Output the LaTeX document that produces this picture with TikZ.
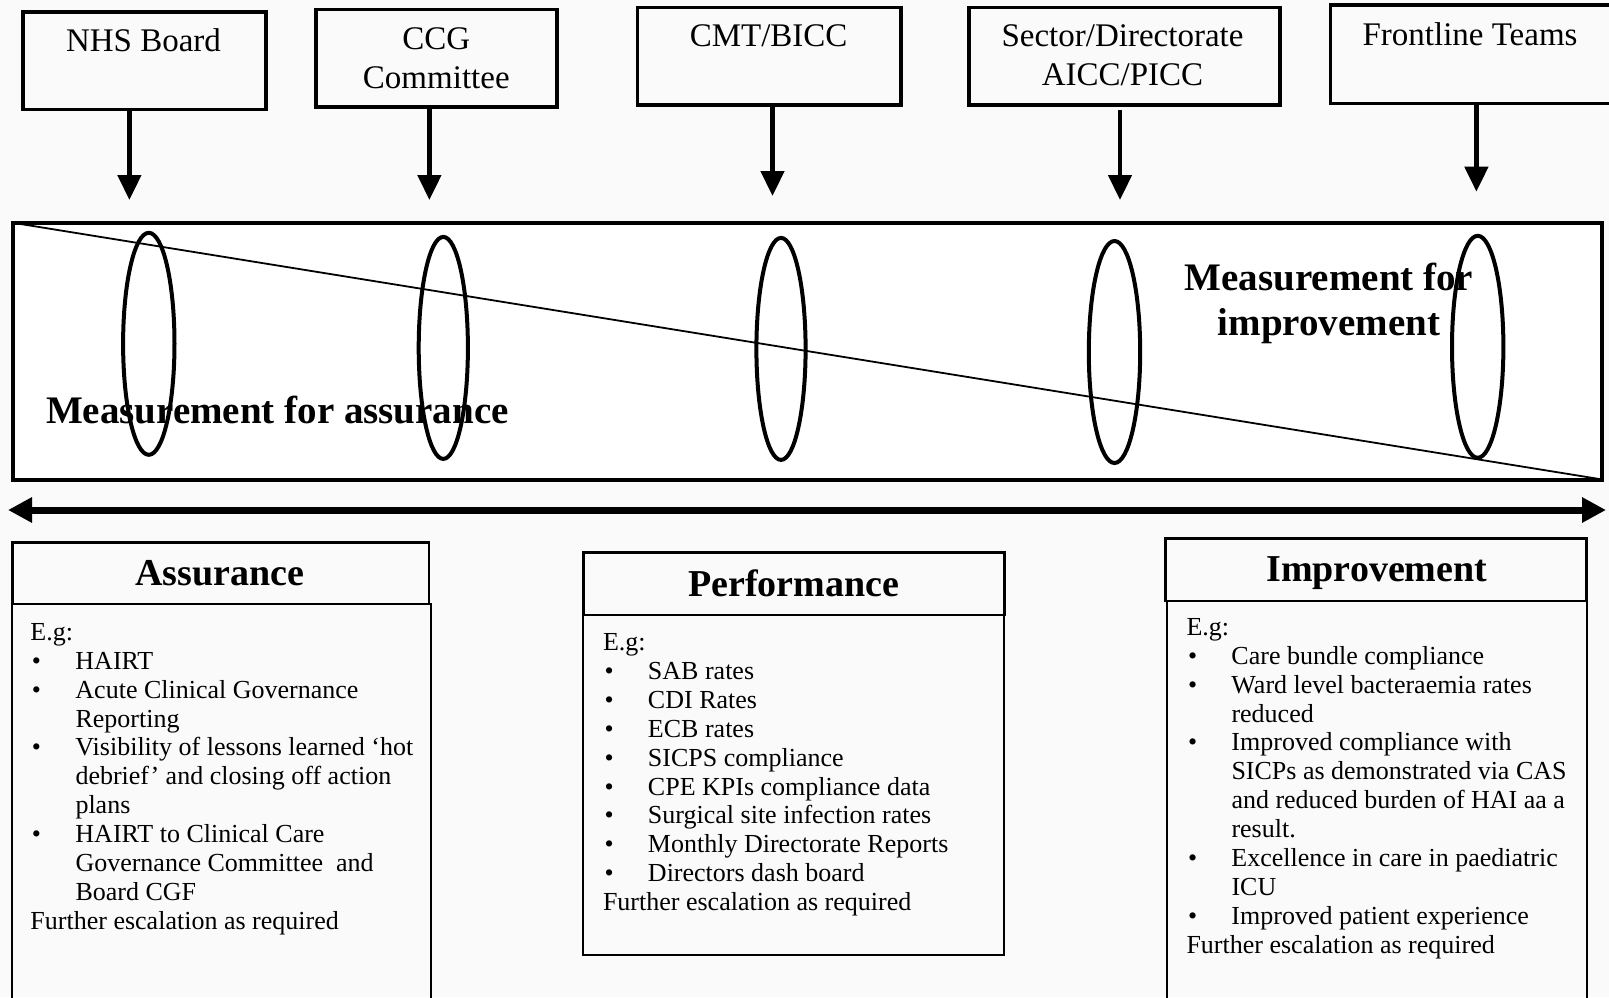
\documentclass[tikz,border=0pt]{standalone}
\usepackage{fontspec}
\setmainfont{Liberation Serif}
\usetikzlibrary{arrows.meta,shapes.geometric}
% bullet lines and their continuation indent inside the example lists
\newcommand{\bodyitem}{\makebox[45pt][l]{\hspace{1.5pt}•}}
\newcommand{\bodyindent}{\hspace*{45pt}}
\newcommand{\firstline}[1]{\rule{0pt}{#1}}

\begin{document}
\begin{tikzpicture}[x=1pt,y=-1pt,
  every node/.style={outer sep=0pt},
  topbox/.style={draw, line width=3.6pt, rectangle, inner sep=0pt},
  toplabel/.style={font=\fontsize{33}{38.7}\selectfont, inner sep=0pt, align=center},
  downarrow/.style={line width=4.6pt, -{Triangle[width=23pt,length=25pt]}},
  band/.style={draw, line width=4pt, fill=white, inner sep=0pt},
  ring/.style={draw, ellipse, line width=4pt, inner sep=0pt},
  bandlabel/.style={font=\fontsize{39}{45}\selectfont\bfseries, inner sep=0pt, align=center},
  titlebox/.style={draw, line width=2.5pt, inner sep=0pt},
  bodybox/.style={draw, line width=1.8pt, inner sep=0pt},
  titletext/.style={font=\fontsize{38}{44}\selectfont\bfseries, inner sep=0pt, anchor=base},
  bodytext/.style={font=\fontsize{26}{28.9}\selectfont, inner sep=0pt, align=left, anchor=north west},
  spanarrow/.style={line width=7pt, {Triangle[width=24pt,length=24pt]}-{Triangle[width=24pt,length=24pt]}},
]
% page and its faint backdrop
\path[use as bounding box, fill=black!2] (0,0) rectangle (1609,997);

% ---- measurement band ----
\node[band, minimum width=1589.9pt, minimum height=256.8pt] (band) at (807.45,351.1) {};
\draw[line width=1.8pt] (band.north west) -- (band.south east);
\node[bandlabel, anchor=base west] (assurL) at (46,423.3) {Measurement for assurance};
\node[bandlabel, anchor=north] (imprL) at (1329,254) {\firstline{36pt}Measurement for\\improvement};

\node[ring, minimum width=51.4pt, minimum height=222pt] (e1) at (148.8,343.8) {};
\node[ring, minimum width=49.2pt, minimum height=222pt] (e2) at (443.3,347.9) {};
\node[ring, minimum width=49.2pt, minimum height=222pt] (e3) at (781,348.9) {};
\node[ring, minimum width=51.4pt, minimum height=222pt] (e4) at (1114.5,352) {};
\node[ring, minimum width=51.4pt, minimum height=222pt] (e5) at (1477.7,346.8) {};

% ---- governance levels ----
\node[topbox, minimum width=243pt, minimum height=97.6pt] (nhs) at (144.5,60.5) {};
\node[topbox, minimum width=241.1pt, minimum height=97.4pt] (ccg) at (436.25,58) {};
\node[topbox, minimum width=263.9pt, minimum height=97.7pt] (cmt) at (769.25,56.15) {};
\node[topbox, minimum width=311.5pt, minimum height=97.7pt] (sector) at (1124.45,56.15) {};
\node[topbox, minimum width=294.6pt, minimum height=98.3pt] (front) at (1477.7,54.15) {};

\node[toplabel, anchor=base] (nhsL) at (143.5,51.7) {NHS Board};
\node[toplabel, anchor=north] (ccgL) at (436.3,19.3) {\firstline{30pt}CCG\\Committee};
\node[toplabel, anchor=base] (cmtL) at (768.6,46.7) {CMT/BICC};
\node[toplabel, anchor=north] (sectorL) at (1122.5,16.7) {\firstline{30pt}Sector/Directorate\\AICC/PICC};
\node[toplabel, anchor=base] (frontL) at (1470,45) {Frontline Teams};

\coordinate (nhsT) at (129.4,200);
\coordinate (ccgT) at (429.4,200);
\coordinate (cmtT) at (772.5,196);
\coordinate (sectorS) at (1120,110);
\coordinate (sectorT) at (1120,200);
\coordinate (frontT) at (1476.4,191.7);
\draw[downarrow] (nhsT |- nhs.south) -- (nhsT);
\draw[downarrow] (ccgT |- ccg.south) -- (ccgT);
\draw[downarrow] (cmtT |- cmt.south) -- (cmtT);
\draw[downarrow] (sectorS) -- (sectorT);
\draw[downarrow] (frontT |- front.south) -- (frontT);

% ---- assurance to improvement spectrum ----
\coordinate (spanL) at (8,510);
\coordinate (spanR) at (1606,510);
\draw[spanarrow] (spanL) -- (spanR);

% ---- example panels ----
\node[bodybox, minimum width=418.7pt, minimum height=408pt] (assBody) at (221.65,808) {};
\node[titlebox, minimum width=416.7pt, minimum height=61.3pt] (assTitle) at (220.65,573.35) {};
\node[titletext] (assTitleL) at (219.5,585) {Assurance};
\node[bodytext] (assText) at (30.5,616.3) {\firstline{24pt}E.g:\\
\bodyitem HAIRT\\
\bodyitem Acute Clinical Governance\\
\bodyindent Reporting\\
\bodyitem Visibility of lessons learned ‘hot\\
\bodyindent debrief’ and closing off action\\
\bodyindent plans\\
\bodyitem HAIRT to Clinical Care\\
\bodyindent Governance Committee~ and\\
\bodyindent Board CGF\\
Further escalation as required};

\node[bodybox, minimum width=421pt, minimum height=340pt] (perfBody) at (793.8,785) {};
\node[titlebox, minimum width=421pt, minimum height=62.3pt] (perfTitle) at (793.8,583.85) {};
\node[titletext] (perfTitleL) at (793.8,596) {Performance};
\node[bodytext] (perfText) at (603,626.5) {\firstline{24pt}E.g:\\
\bodyitem SAB rates\\
\bodyitem CDI Rates\\
\bodyitem ECB rates\\
\bodyitem SICPS compliance\\
\bodyitem CPE KPIs compliance data\\
\bodyitem Surgical site infection rates\\
\bodyitem Monthly Directorate Reports\\
\bodyitem Directors dash board\\
Further escalation as required};

\node[bodybox, minimum width=419.4pt, minimum height=411pt] (impBody) at (1377,806.5) {};
\node[titlebox, minimum width=421pt, minimum height=62.7pt] (impTitle) at (1376.2,569.65) {};
\node[titletext] (impTitleL) at (1376.7,581.7) {Improvement};
\node[bodytext] (impText) at (1186.5,611.3) {\firstline{24pt}E.g:\\
\bodyitem Care bundle compliance\\
\bodyitem Ward level bacteraemia rates\\
\bodyindent reduced\\
\bodyitem Improved compliance with\\
\bodyindent SICPs as demonstrated via CAS\\
\bodyindent and reduced burden of HAI aa a\\
\bodyindent result.\\
\bodyitem Excellence in care in paediatric\\
\bodyindent ICU\\
\bodyitem Improved patient experience\\
Further escalation as required};
\end{tikzpicture}
\end{document}
